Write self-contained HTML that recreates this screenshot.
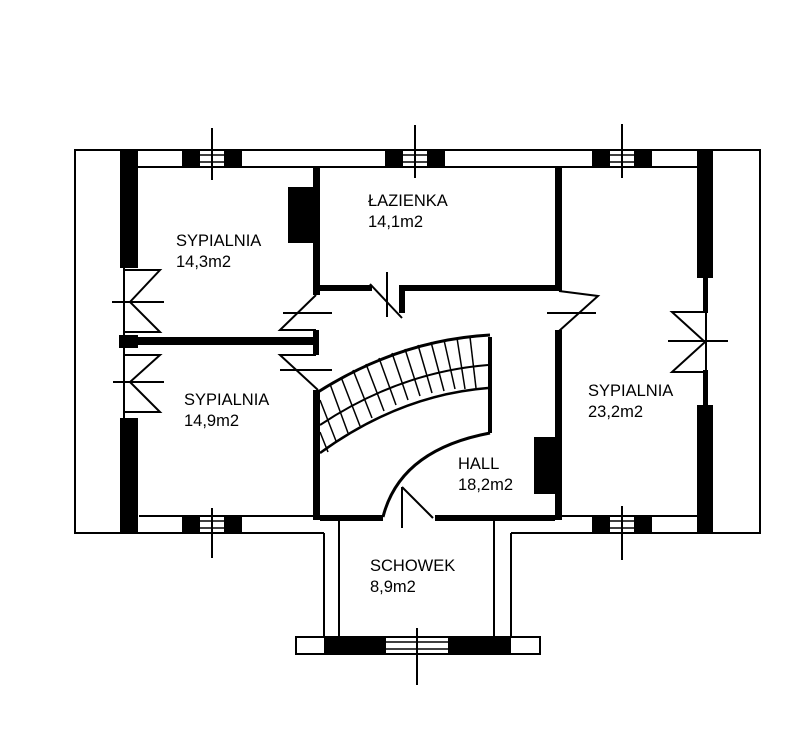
<!DOCTYPE html>
<html><head><meta charset="utf-8"><style>
body{margin:0;background:#fff}
svg{display:block}
text{font-family:"Liberation Sans",sans-serif;font-size:16.5px;fill:#000}
</style></head><body>
<svg width="800" height="755" viewBox="0 0 800 755" xmlns="http://www.w3.org/2000/svg">
<g fill="none" stroke="#000" stroke-width="2">
<polyline points="324,533 75,533 75,150 760,150 760,533 511,533"/>
<line x1="120" y1="167" x2="713" y2="167"/>
<line x1="139" y1="516" x2="320" y2="516"/>
<line x1="562" y1="516" x2="697" y2="516"/>
<polyline points="324,533 324,637"/>
<polyline points="339,520 339,637"/>
<polyline points="494,520 494,637"/>
<polyline points="511,533 511,637"/>
<rect x="296" y="637" width="244" height="17"/>
</g>
<g fill="#000">
<rect x="120" y="150" width="18" height="118"/>
<rect x="120" y="418" width="18" height="115"/>
<rect x="119" y="335" width="19" height="13"/>
<rect x="697" y="150" width="16" height="128"/>
<rect x="697" y="405" width="16" height="128"/>
<rect x="703" y="278" width="5" height="35"/>
<rect x="703" y="370" width="5" height="35"/>
<rect x="182" y="150" width="18" height="17"/><rect x="224" y="150" width="18" height="17"/>
<rect x="385" y="150" width="18" height="17"/><rect x="427" y="150" width="18" height="17"/>
<rect x="592" y="150" width="18" height="17"/><rect x="634" y="150" width="18" height="17"/>
<rect x="182" y="516" width="18" height="17"/><rect x="224" y="516" width="18" height="17"/>
<rect x="592" y="516" width="18" height="17"/><rect x="634" y="516" width="18" height="17"/>
<rect x="324" y="637" width="62" height="17"/><rect x="448" y="637" width="63" height="17"/>
<rect x="313" y="167" width="7" height="128"/>
<rect x="288" y="187" width="25" height="56"/>
<rect x="320" y="285" width="52" height="6"/>
<rect x="403" y="285" width="152" height="6"/>
<rect x="399" y="285" width="6" height="28"/>
<rect x="555" y="167" width="7" height="124"/>
<rect x="555" y="330" width="7" height="190"/>
<rect x="534" y="437" width="21" height="57"/>
<rect x="138" y="337" width="180" height="8"/>
<rect x="313" y="330" width="6" height="25"/>
<rect x="313" y="390" width="7" height="130"/>
<rect x="320" y="515" width="63" height="6"/>
<rect x="435" y="515" width="120" height="6"/>
<rect x="488" y="337" width="4" height="96"/>
</g>
<g fill="none" stroke="#000" stroke-width="2">
<g stroke-width="1.5">
<line x1="200" y1="155" x2="224" y2="155"/><line x1="200" y1="162" x2="224" y2="162"/>
<line x1="403" y1="155" x2="427" y2="155"/><line x1="403" y1="162" x2="427" y2="162"/>
<line x1="610" y1="155" x2="634" y2="155"/><line x1="610" y1="162" x2="634" y2="162"/>
<line x1="200" y1="521" x2="224" y2="521"/><line x1="200" y1="528" x2="224" y2="528"/>
<line x1="610" y1="521" x2="634" y2="521"/><line x1="610" y1="528" x2="634" y2="528"/>
<line x1="386" y1="642" x2="448" y2="642"/><line x1="386" y1="649" x2="448" y2="649"/>
</g>
<line x1="212" y1="128" x2="212" y2="180"/>
<line x1="415" y1="125" x2="415" y2="178"/>
<line x1="622" y1="124" x2="622" y2="178"/>
<line x1="212" y1="508" x2="212" y2="558"/>
<line x1="622" y1="506" x2="622" y2="560"/>
<line x1="417" y1="628" x2="417" y2="685"/>
<line x1="124" y1="268" x2="124" y2="418"/>
<polyline points="124,270 160,270 130,302 160,332 124,332"/>
<line x1="112" y1="302" x2="164" y2="302"/>
<polyline points="124,355 160,355 130,382 160,412 124,412"/>
<line x1="113" y1="382" x2="164" y2="382"/>
<line x1="706" y1="313" x2="706" y2="370"/>
<polyline points="706,312 672,312 705,342 672,372 706,372"/>
<line x1="668" y1="341" x2="728" y2="341"/>
<polyline points="316,295 280,330 316,330"/>
<line x1="283" y1="313" x2="332" y2="313"/>
<polyline points="316,355 280,355 318,390"/>
<line x1="280" y1="370" x2="332" y2="370"/>
<line x1="387" y1="272" x2="387" y2="317"/>
<line x1="370" y1="284" x2="402" y2="318"/>
<polyline points="559,291 598,296 559,331"/>
<line x1="547" y1="313" x2="596" y2="313"/>
<line x1="402" y1="487" x2="402" y2="528"/>
<line x1="402" y1="487" x2="433" y2="518"/>
<path d="M318,392 Q400,340 490,335" stroke-width="3"/>
<path d="M320,425 Q400,372 488,365"/>
<path d="M320,453 Q400,395 488,388" stroke-width="2.5"/>
<path d="M490,433 Q400,450 383,517" stroke-width="3"/>
</g>
<g stroke="#000" stroke-width="1.5">
<line x1="320" y1="400" x2="336" y2="441"/>
<line x1="330" y1="384" x2="348" y2="433"/>
<line x1="341" y1="377" x2="360" y2="426"/>
<line x1="353" y1="370" x2="372" y2="418"/>
<line x1="366" y1="364" x2="384" y2="411"/>
<line x1="379" y1="358" x2="396" y2="405"/>
<line x1="392" y1="353" x2="408" y2="400"/>
<line x1="405" y1="349" x2="420" y2="396"/>
<line x1="418" y1="345" x2="432" y2="393"/>
<line x1="431" y1="342" x2="444" y2="391"/>
<line x1="444" y1="340" x2="455" y2="389"/>
<line x1="457" y1="338" x2="465" y2="389"/>
<line x1="470" y1="337" x2="476" y2="388"/>
<line x1="320" y1="432" x2="328" y2="452"/>
</g>
<text x="176" y="246">SYPIALNIA</text><text x="176" y="267">14,3m2</text>
<text x="368" y="206">ŁAZIENKA</text><text x="368" y="227">14,1m2</text>
<text x="184" y="405">SYPIALNIA</text><text x="184" y="426">14,9m2</text>
<text x="588" y="396">SYPIALNIA</text><text x="588" y="417">23,2m2</text>
<text x="458" y="469">HALL</text><text x="458" y="490">18,2m2</text>
<text x="370" y="571">SCHOWEK</text><text x="370" y="592">8,9m2</text>
</svg>
</body></html>
